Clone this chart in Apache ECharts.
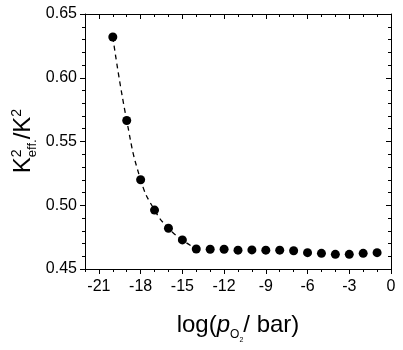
<!DOCTYPE html>
<html>
<head>
<meta charset="UTF-8">
<title>ECharts</title>
<script src="https://cdn.jsdelivr.net/npm/echarts@6.0.0/dist/echarts.min.js"></script>
<style>html,body{margin:0;padding:0;background:#fff;} #main{width:403px;height:350px;}</style>
</head>
<body>
<div id="main"></div>
<script>
// log(pO2 / bar) and k2eff./k2
var logP = [-20, -19, -18, -17, -16, -15, -14, -13, -12, -11, -10, -9, -8, -7, -6, -5, -4, -3, -2, -1];
var ratio = [0.632, 0.5665, 0.520, 0.4962, 0.482, 0.4728, 0.4657, 0.4655, 0.4655, 0.4648,
             0.465, 0.4648, 0.4648, 0.4643, 0.4628, 0.4623, 0.4615, 0.4615, 0.4623, 0.4628];
var fitCount = 7; // dashed guide runs over the first points only
var xMajor = [-21, -18, -15, -12, -9, -6, -3, 0];

var fontName = 'Liberation Sans';
var ctx = document.createElement('canvas').getContext('2d');
function textW(t, size, italic) {
    ctx.font = (italic ? 'italic ' : '') + size + 'px "' + fontName + '"';
    return ctx.measureText(t).width;
}

// a row of text pieces with baseline at y=0, centred on x=0
function textRow(pieces) {
    var x = 0, held = 0, out = [];
    pieces.forEach(function (p) {
        var w = textW(p.t, p.size, p.italic);
        out.push({
            type: 'text', x: x, y: (p.dy || 0) - 0.31 * p.size,
            style: {
                text: p.t, fontSize: p.size, fontFamily: fontName,
                fontStyle: p.italic ? 'italic' : 'normal',
                fill: '#000', align: 'left', verticalAlign: 'middle'
            }
        });
        if (p.hold) { held = w; }
        else { x += Math.max(w, held); held = 0; }
    });
    out.forEach(function (o) { o.x -= x / 2; });
    return out;
}

var fitData = [];
var pts = [];
for (var i = 0; i < logP.length; i++) {
    pts.push([logP[i], ratio[i]]);
    if (i < fitCount) fitData.push([logP[i], ratio[i]]);
}

var black = '#000';
function xAx(pos, inside, major) {
    var a = {
        type: 'value', min: -22, max: 0, position: pos,
        axisLine: { show: major, onZero: false, lineStyle: { color: black, width: 1 } },
        axisTick: { show: true, inside: inside, length: major ? 5 : 3, lineStyle: { color: black, width: 1 } },
        axisLabel: { show: false },
        splitLine: { show: false }
    };
    if (major) {
        a.axisTick.customValues = xMajor;
        a.axisLabel = { show: pos === 'bottom', customValues: xMajor, fontSize: 16, color: black,
                        fontFamily: fontName, margin: 10 };
    } else {
        a.interval = 1;
    }
    return a;
}
function yAx(pos, inside) {
    return {
        type: 'value', min: 0.45, max: 0.65, interval: 0.05, position: pos,
        axisLine: { show: true, onZero: false, lineStyle: { color: black, width: 1 } },
        axisTick: { show: true, inside: inside, length: 5, lineStyle: { color: black, width: 1 } },
        minorTick: { show: true, splitNumber: 5, length: 3, lineStyle: { color: black, width: 1 } },
        axisLabel: { show: pos === 'left', fontSize: 16, color: black, fontFamily: fontName, margin: 8,
                     formatter: function (v) { return v.toFixed(2); } },
        splitLine: { show: false }
    };
}

var chart = echarts.init(document.getElementById('main'));
chart.setOption({
    animation: false,
    backgroundColor: '#fff',
    grid: { left: 85, right: 12, top: 14, bottom: 81, containLabel: false, outerBoundsMode: 'none' },
    xAxis: [xAx('bottom', false, true), xAx('bottom', false, false), xAx('top', true, true), xAx('top', true, false)],
    yAxis: [yAx('left', false), yAx('right', true)],
    graphic: [
        {
            type: 'group', x: 238, y: 333,
            children: textRow([
                { t: 'log(', size: 24 },
                { t: 'p', size: 24, italic: true },
                { t: 'O', size: 12, dy: 5 },
                { t: '2', size: 7, dy: 9 },
                { t: '/ bar)', size: 24 }
            ])
        },
        {
            type: 'group', x: 31, y: 141, rotation: Math.PI / 2,
            children: textRow([
                { t: 'K', size: 24 },
                { t: '2', size: 14, dy: -10, hold: true },
                { t: 'eff.', size: 13, dy: 5 },
                { t: '/K', size: 24 },
                { t: '2', size: 14, dy: -10 }
            ])
        }
    ],
    series: [
        {
            type: 'line', data: fitData, smooth: true, showSymbol: false,
            lineStyle: { color: black, width: 1.3, type: [5, 4] }, z: 1
        },
        {
            type: 'scatter', data: pts, symbol: 'circle', symbolSize: 9,
            itemStyle: { color: black, opacity: 1 }, z: 2
        }
    ]
});
</script>
</body>
</html>
